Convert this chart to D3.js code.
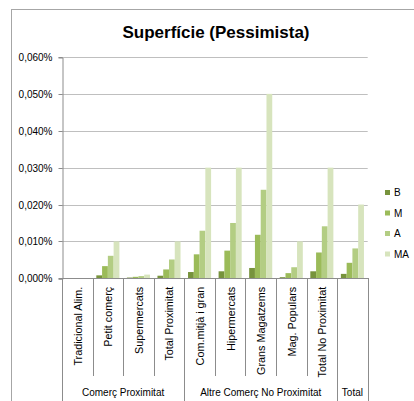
<!DOCTYPE html>
<html><head><meta charset="utf-8">
<script src="https://cdn.jsdelivr.net/npm/d3@7"></script>
<style>
html,body{margin:0;padding:0;background:#fff;}
svg{display:block;font-family:"Liberation Sans","DejaVu Sans",sans-serif;}
</style></head>
<body><svg id="chart" width="414" height="401"></svg>
<script>
const title = "Superfície (Pessimista)";
const categories = ["Tradicional Alim.", "Petit comerç", "Supermercats", "Total Proximitat", "Com.mitjà i gran", "Hipermercats", "Grans Magatzems", "Mag. Populars", "Total No Proximitat", " "];
const groups = ["Comerç Proximitat", "Altre Comerç No Proximitat", "Total"];
const groupSizes = [4, 5, 1];
const seriesNames = ["B", "M", "A", "MA"];
const valuesB  = [0, 0.0008, 0.0002, 0.0007, 0.0017, 0.0019, 0.0028, 0.0003, 0.0019, 0.0012];
const valuesM  = [0, 0.0033, 0.0004, 0.0024, 0.0065, 0.0075, 0.0118, 0.0014, 0.0070, 0.0042];
const valuesA  = [0, 0.0061, 0.0006, 0.0051, 0.0129, 0.0150, 0.0240, 0.0030, 0.0141, 0.0081];
const valuesMA = [0, 0.0100, 0.0010, 0.0100, 0.0300, 0.0300, 0.0500, 0.0100, 0.0300, 0.0200];
const yTicks = [0, 0.01, 0.02, 0.03, 0.04, 0.05, 0.06];
const colors = ["#77933c", "#9bbb59", "#b3cd83", "#d7e4bd"];

const seriesValues = [valuesB, valuesM, valuesA, valuesMA];
const svg = d3.select("#chart");

// chart border
svg.append("rect").attr("x", 11.5).attr("y", 9.5).attr("width", 420).attr("height", 420)
  .attr("fill", "none").attr("stroke", "#a6a6a6").attr("stroke-width", 1);

const pLeft = 62, pRight = 367.7, pTop = 57, pBottom = 278.3;
const x = d3.scaleBand().domain(d3.range(categories.length)).range([pLeft, pRight]).paddingInner(0).paddingOuter(0);
const xs = d3.scaleBand().domain(seriesNames).range([0, x.bandwidth()]).paddingInner(0).paddingOuter(0.65);
const y = d3.scaleLinear().domain([0, 0.06]).range([pBottom, pTop]);

// title
svg.append("text").attr("x", 216).attr("y", 38).attr("text-anchor", "middle")
  .attr("font-size", 17).attr("font-weight", "bold").attr("fill", "#000").text(title);

// gridlines
svg.append("g").selectAll("line").data(yTicks.filter(d => d > 0)).join("line")
  .attr("x1", pLeft).attr("x2", pRight).attr("y1", d => Math.round(y(d)) + 0.5).attr("y2", d => Math.round(y(d)) + 0.5)
  .attr("stroke", "#bfbfbf").attr("stroke-width", 1);

// y axis
const yAxis = d3.axisLeft(y).tickValues(yTicks).tickSize(4).tickPadding(6)
  .tickFormat(d => d3.format(".3f")(d).replace(".", ",") + "%");
const gy = svg.append("g").attr("transform", `translate(${pLeft + 0.5},0.5)`).call(yAxis);
gy.select(".domain").attr("stroke", "#8c8c8c");
gy.selectAll(".tick line").attr("stroke", "#8c8c8c");
gy.selectAll(".tick text").attr("font-size", 10).attr("fill", "#000")
  .attr("font-family", "Liberation Sans, sans-serif");
gy.selectAll(".tick").attr("transform", d => `translate(0,${Math.round(y(d))})`);

// bars
const barData = [];
categories.forEach((c, i) => seriesNames.forEach((s, j) => barData.push({i, s, j, v: seriesValues[j][i]})));
svg.append("g").selectAll("rect").data(barData.filter(d => d.v > 0)).join("rect")
  .attr("x", d => x(d.i) + xs(d.s))
  .attr("width", xs.bandwidth())
  .attr("y", d => y(d.v))
  .attr("height", d => pBottom - y(d.v))
  .attr("fill", d => colors[d.j]);

// x axis line
svg.append("line").attr("x1", pLeft).attr("x2", pRight + 0.5).attr("y1", Math.round(pBottom) + 0.5).attr("y2", Math.round(pBottom) + 0.5)
  .attr("stroke", "#8c8c8c");

// category tick lines and group separators
const boundaries = d3.range(categories.length + 1);
const groupStarts = [0];
groupSizes.reduce((acc, n) => { groupStarts.push(acc + n); return acc + n; }, 0);
svg.append("g").selectAll("line").data(boundaries).join("line")
  .attr("x1", d => Math.round(d < categories.length ? x(d) : pRight) + 0.5)
  .attr("x2", d => Math.round(d < categories.length ? x(d) : pRight) + 0.5)
  .attr("y1", Math.round(pBottom))
  .attr("y2", d => groupStarts.includes(d) ? 401 : 376)
  .attr("stroke", "#8c8c8c");

// category labels (rotated)
svg.append("g").selectAll("text").data(categories).join("text")
  .attr("transform", (d, i) => `translate(${x(i) + x.bandwidth() / 2 + 4.5},${pBottom + 8.5}) rotate(-90)`)
  .attr("text-anchor", "end").attr("font-size", 10.8).attr("fill", "#000").text(d => d);

// group labels
svg.append("g").selectAll("text").data(groups).join("text")
  .attr("x", (d, k) => {
    const a = groupStarts[k], b = groupStarts[k + 1];
    const xa = x(a), xb = b < categories.length ? x(b) : pRight;
    return (xa + xb) / 2;
  })
  .attr("y", 396).attr("text-anchor", "middle").attr("font-size", 10).attr("fill", "#000").text(d => d);

// legend
const lg = svg.append("g").selectAll("g").data(seriesNames).join("g")
  .attr("transform", (d, i) => `translate(385,${190 + i * 20.5})`);
lg.append("rect").attr("width", 5).attr("height", 5).attr("fill", (d, i) => colors[i]);
lg.append("text").attr("x", 9).attr("y", 6).attr("font-size", 10).attr("fill", "#000").text(d => d);
</script></body></html>
